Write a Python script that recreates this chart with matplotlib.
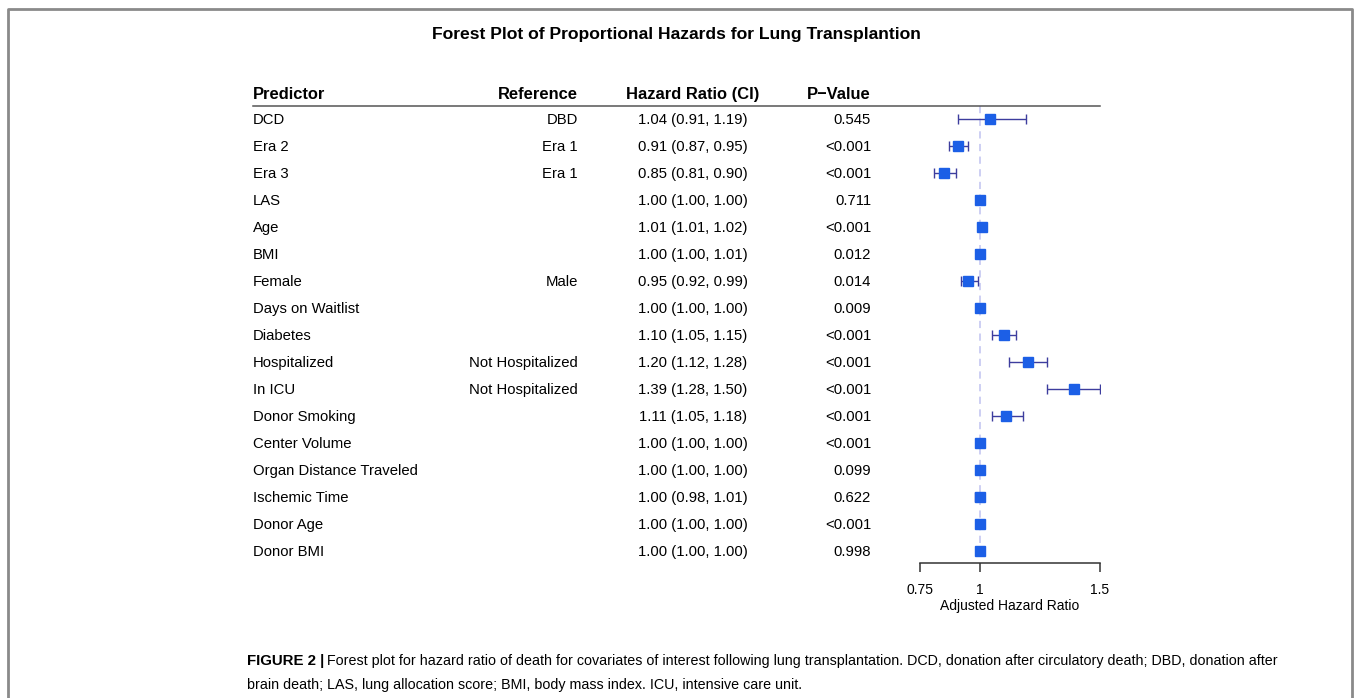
import numpy as np
import matplotlib
matplotlib.use("Agg")
import matplotlib.pyplot as plt
from matplotlib.lines import Line2D

plt.rcParams['font.family'] = ['Liberation Sans', 'DejaVu Sans']

predictors = ["DCD", "Era 2", "Era 3", "LAS", "Age", "BMI", "Female", "Days on Waitlist",
              "Diabetes", "Hospitalized", "In ICU", "Donor Smoking", "Center Volume",
              "Organ Distance Traveled", "Ischemic Time", "Donor Age", "Donor BMI"]
references = ["DBD", "Era 1", "Era 1", "", "", "", "Male", "", "", "Not Hospitalized",
              "Not Hospitalized", "", "", "", "", "", ""]
hr = [1.04, 0.91, 0.85, 1.00, 1.01, 1.00, 0.95, 1.00, 1.10, 1.20, 1.39, 1.11, 1.00, 1.00, 1.00, 1.00, 1.00]
lo = [0.91, 0.87, 0.81, 1.00, 1.01, 1.00, 0.92, 1.00, 1.05, 1.12, 1.28, 1.05, 1.00, 1.00, 0.98, 1.00, 1.00]
hi = [1.19, 0.95, 0.90, 1.00, 1.02, 1.01, 0.99, 1.00, 1.15, 1.28, 1.50, 1.18, 1.00, 1.00, 1.01, 1.00, 1.00]
pvals = ["0.545", "<0.001", "<0.001", "0.711", "<0.001", "0.012", "0.014", "0.009", "<0.001",
         "<0.001", "<0.001", "<0.001", "<0.001", "0.099", "0.622", "<0.001", "0.998"]
xticks = [0.75, 1, 1.5]
xticklabels = ["0.75", "1", "1.5"]

W, H = 1356, 698
fig = plt.figure(figsize=(W / 100, H / 100), dpi=100)

def fx(px):
    return px / W

def fy(py):
    return 1 - py / H

# row i sits at pixel y = 119 + 27*i ; axes spans pixel y 80..563
top_px, bot_px = 80, 563
ylim = ((bot_px - 119) / 27, (top_px - 119) / 27)

ax = fig.add_axes([fx(920), fy(bot_px), fx(1100) - fx(920), (bot_px - top_px) / H])
ax.set_xlim(0.75, 1.5)
ax.set_ylim(*ylim)

rows = np.arange(len(predictors))
hr = np.array(hr); lo = np.array(lo); hi = np.array(hi)

ax.plot([1, 1], [-0.5, ylim[0] - 0.2], color="#c9cbf2", lw=1.3, ls=(0, (4, 3)), zorder=1)
for i in rows:
    if hi[i] - lo[i] > 0.001:
        ax.errorbar(hr[i], i, xerr=[[hr[i] - lo[i]], [hi[i] - hr[i]]], fmt="none",
                    ecolor="#3d3d9e", elinewidth=1.0, capsize=3.8, capthick=1.0, zorder=2)
ax.plot(hr, rows, ls="none", marker="s", markersize=6.5, color="#1c5fe6", zorder=3)

for s in ["top", "right", "left"]:
    ax.spines[s].set_visible(False)
ax.spines["bottom"].set_color("#333333")
ax.spines["bottom"].set_linewidth(1.1)
ax.set_yticks([])
ax.set_xticks(xticks)
ax.set_xticklabels(xticklabels)
ax.tick_params(axis="x", direction="out", length=6.5, width=1.1, color="#333333",
               labelsize=10, pad=8)
ax.set_xlabel("Adjusted Hazard Ratio", fontsize=10, labelpad=1)
ax.patch.set_alpha(0)

# table axes, x in pixels; text nudged 1 px down to sit on the row centre
tb = fig.add_axes([0, fy(bot_px + 1), 1, (bot_px - top_px) / H])
tb.set_xlim(0, W)
tb.set_ylim(*ylim)
tb.axis("off")
tb.patch.set_alpha(0)

fs = 10.7
hfs = 11.9
hdr_y = -26 / 27
tb.text(253, hdr_y, "Predictor", fontsize=hfs, fontweight="bold", ha="left", va="center")
tb.text(578, hdr_y, "Reference", fontsize=hfs, fontweight="bold", ha="right", va="center")
tb.text(693, hdr_y, "Hazard Ratio (CI)", fontsize=hfs, fontweight="bold", ha="center", va="center")
tb.text(871, hdr_y, "P\u2212Value", fontsize=hfs, fontweight="bold", ha="right", va="center")

for i in rows:
    tb.text(253, i, predictors[i], fontsize=fs, ha="left", va="center")
    tb.text(578, i, references[i], fontsize=fs, ha="right", va="center")
    tb.text(693, i, f"{hr[i]:.2f} ({lo[i]:.2f}, {hi[i]:.2f})", fontsize=fs, ha="center", va="center")
    tb.text(871, i, pvals[i], fontsize=fs, ha="right", va="center")

fig.add_artist(Line2D([fx(253), fx(1100)], [fy(106), fy(106)], color="#555555", lw=1.1))

fig.text(fx(676), fy(34), "Forest Plot of Proportional Hazards for Lung Transplantion",
         fontsize=12.6, fontweight="bold", ha="center", va="center")

# frame
fc = "#8a8a8a"
fig.add_artist(Line2D([fx(8), fx(8), fx(1352), fx(1352)], [0, fy(9), fy(9), 0], color=fc, lw=2))

# caption
cap_fs = 10.3
lead = fig.text(fx(247), fy(661), "FIGURE 2 |", fontsize=cap_fs + 0.5, fontweight="bold",
                ha="left", va="center")
fig.canvas.draw()
bb = lead.get_window_extent(fig.canvas.get_renderer())
fig.text(bb.x1 / W + fx(3), fy(661),
         "Forest plot for hazard ratio of death for covariates of interest following lung transplantation. "
         "DCD, donation after circulatory death; DBD, donation after",
         fontsize=cap_fs, ha="left", va="center")
fig.text(fx(247), fy(685),
         "brain death; LAS, lung allocation score; BMI, body mass index. ICU, intensive care unit.",
         fontsize=cap_fs, ha="left", va="center")

fig.savefig("out.png", dpi=100)
